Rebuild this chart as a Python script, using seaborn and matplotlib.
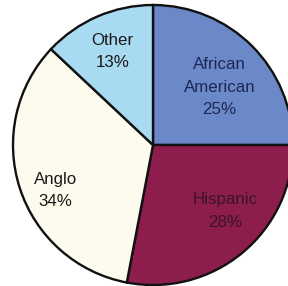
import matplotlib
matplotlib.use("Agg")
import numpy as np
import matplotlib.pyplot as plt
import seaborn as sns

sns.set_theme(style="white")
plt.rcParams["font.family"] = ["Liberation Sans", "DejaVu Sans"]

# slices, clockwise from 12 o'clock
groups = ["African\nAmerican", "Hispanic", "Anglo", "Other"]
shares = [25, 28, 34, 13]
colors = ["#6b88c8", "#8c1d4c", "#fdfbee", "#a8daf2"]
text_colors = ["#1c2a52", "#3a1526", "#1a1a1a", "#1a1a1a"]
# label placement inside each wedge (radius fraction, angle nudge in degrees)
label_r = [0.63, 0.70, 0.77, 0.73]
label_nudge = [-4, 8, 7, 0]

fig = plt.figure(figsize=(2.88, 2.86), dpi=100)
ax = fig.add_axes([13 / 288, 1 / 286, 280 / 288, 280 / 286])

labels = [f"{g}\n{s}%" for g, s in zip(groups, shares)]
wedges, texts = ax.pie(
    shares,
    labels=labels,
    colors=colors,
    startangle=90,
    counterclock=False,
    labeldistance=0.7,
    wedgeprops={"edgecolor": "#111111", "linewidth": 1.7},
    textprops={"fontsize": 12.2, "linespacing": 1.6},
)
for w, t, c, r, d in zip(wedges, texts, text_colors, label_r, label_nudge):
    mid = np.deg2rad((w.theta1 + w.theta2) / 2 + d)
    t.set_position((r * np.cos(mid), r * np.sin(mid)))
    t.set_horizontalalignment("center")
    t.set_verticalalignment("center")
    t.set_color(c)

ax.set_xlim(-1, 1)
ax.set_ylim(-1, 1)
ax.set_aspect("equal")
ax.axis("off")

fig.savefig("out.png", dpi=100)
plt.close(fig)
